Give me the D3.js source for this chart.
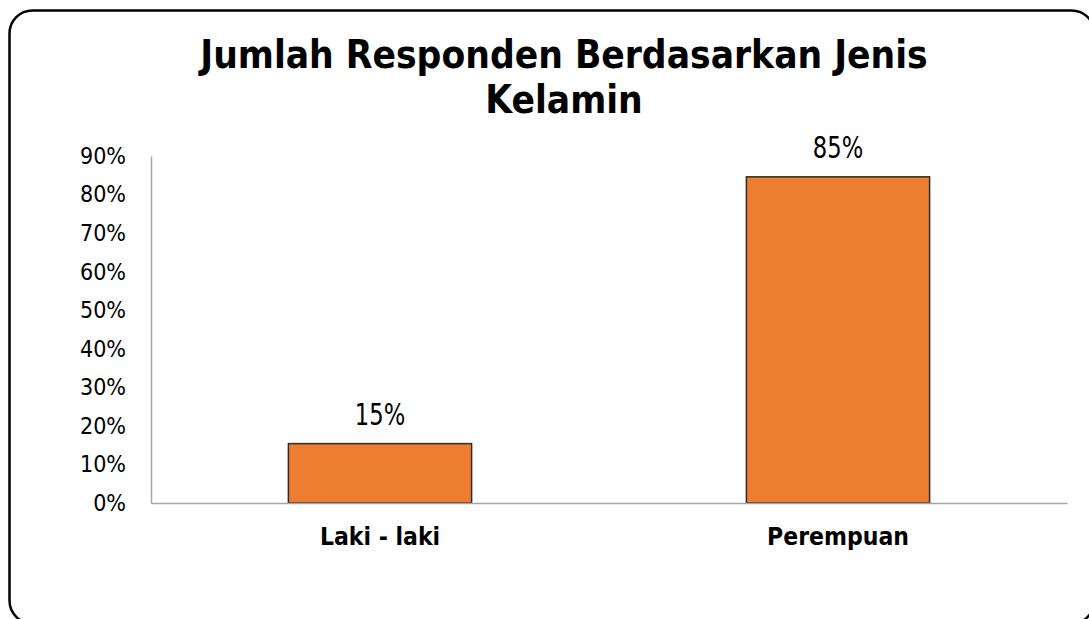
<!DOCTYPE html>
<html>
<head>
<meta charset="utf-8">
<script src="https://cdn.jsdelivr.net/npm/d3@7"></script>
<style>
  html, body { margin: 0; padding: 0; background: #fff; }
  svg text { font-family: "DejaVu Sans Condensed", "DejaVu Sans", sans-serif; font-stretch: condensed; fill: #000; }
</style>
</head>
<body>
<svg id="chart" width="1089" height="619"></svg>
<script>
const titleLines = ["Jumlah Responden Berdasarkan Jenis", "Kelamin"];
const categories = ["Laki - laki", "Perempuan"];
const values = [15.4, 84.6];
const valueLabels = ["15%", "85%"];
const tickValues = [0, 10, 20, 30, 40, 50, 60, 70, 80, 90];

const svg = d3.select("#chart");
const plot = { left: 151, right: 1067, top: 156, bottom: 503 };

// outer rounded border (extends past the right and bottom edges of the picture)
svg.append("rect")
  .attr("x", 9.5).attr("y", 10.5)
  .attr("width", 1085).attr("height", 613)
  .attr("rx", 23).attr("ry", 23)
  .attr("fill", "#fff").attr("stroke", "#000").attr("stroke-width", 2.5);

// title
const title = svg.append("text")
  .attr("text-anchor", "middle")
  .style("font-weight", "bold")
  .style("font-size", "38.5px");
titleLines.forEach((t, i) => {
  title.append("tspan").attr("x", 564).attr("y", 68 + i * 45).text(t);
});

const x = d3.scaleBand().domain(categories)
  .range([plot.left, plot.right]).paddingInner(0.6).paddingOuter(0.3);
const y = d3.scaleLinear().domain([0, 90]).range([plot.bottom, plot.top]);

// y axis
const yAxis = d3.axisLeft(y).tickValues(tickValues)
  .tickFormat(d => d + "%").tickSize(0).tickPadding(25);
const gy = svg.append("g").attr("transform", `translate(${plot.left},0)`).call(yAxis);
gy.select(".domain").attr("stroke", "#a6a6a6").attr("stroke-width", 1.5);
gy.selectAll("text").style("font-size", "23px").attr("fill", "#000");

// bars
svg.append("g").selectAll("rect").data(values).join("rect")
  .attr("x", (d, i) => x(categories[i]))
  .attr("y", d => y(d))
  .attr("width", x.bandwidth())
  .attr("height", d => y(0) - y(d))
  .attr("fill", "#ED7D31")
  .attr("stroke", "#2b2b2b").attr("stroke-width", 1.5);

// x axis
const xAxis = d3.axisBottom(x).tickSize(0).tickPadding(25);
const gx = svg.append("g").attr("transform", `translate(0,${plot.bottom})`).call(xAxis);
gx.select(".domain").attr("stroke", "#a6a6a6").attr("stroke-width", 1.5);
gx.selectAll("text").style("font-size", "24.5px").style("font-weight", "bold").attr("fill", "#000");

// data labels
svg.append("g").selectAll("text").data(values).join("text")
  .attr("transform", (d, i) => `translate(${x(categories[i]) + x.bandwidth() / 2},${y(d) - 18.5}) scale(0.84,1)`)
  .attr("text-anchor", "middle")
  .style("font-size", "30px")
  .text((d, i) => valueLabels[i]);
</script>
</body>
</html>
